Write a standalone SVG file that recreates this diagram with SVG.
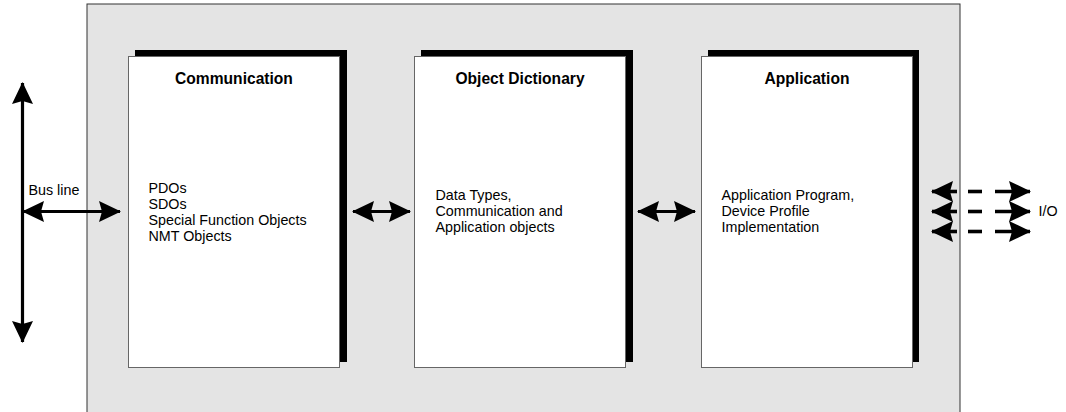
<svg xmlns="http://www.w3.org/2000/svg" width="1066" height="412" viewBox="0 0 1066 412">
  <defs>
    <style>
      .title { font-family: "Liberation Sans", Arial, sans-serif; font-weight: bold; font-size: 15.6px; fill: #000; text-anchor: middle; }
      .body { font-family: "Liberation Sans", Arial, sans-serif; font-size: 14.3px; fill: #000; }
      .shadow { fill: #000; }
      .page { fill: #fff; stroke: #666; stroke-width: 1; }
      .conn { stroke: #000; stroke-width: 3.2; fill: none; }
      .dash { stroke: #000; stroke-width: 3.6; fill: none; }
    </style>
    <marker id="head" viewBox="0 0 22 21" refX="21" refY="10.5" markerWidth="22" markerHeight="21" markerUnits="userSpaceOnUse" orient="auto-start-reverse" overflow="visible">
      <path d="M0,0 L22,10.5 L0,21 L3,10.5 Z" fill="#000"/>
    </marker>
  </defs>

  <rect id="background" x="87" y="4" width="873" height="420" fill="#e4e4e4" stroke="#333" stroke-width="1"/>

  <g id="communication">
    <rect class="shadow" x="135" y="50" width="212" height="312"/>
    <rect class="page" x="128.5" y="56.5" width="211" height="311"/>
    <text class="title" x="234" y="84">Communication</text>
    <text class="body" x="148.5" y="192.5">PDOs</text>
    <text class="body" x="148.5" y="208.5">SDOs</text>
    <text class="body" x="148.5" y="224.5">Special Function Objects</text>
    <text class="body" x="148.5" y="240.5">NMT Objects</text>
  </g>

  <g id="object-dictionary">
    <rect class="shadow" x="421" y="50" width="212" height="312"/>
    <rect class="page" x="414.5" y="56.5" width="211" height="311"/>
    <text class="title" x="520" y="84">Object Dictionary</text>
    <text class="body" x="435.5" y="199.5">Data Types,</text>
    <text class="body" x="435.5" y="215.5">Communication and</text>
    <text class="body" x="435.5" y="231.5">Application objects</text>
  </g>

  <g id="application">
    <rect class="shadow" x="708" y="50" width="211" height="312"/>
    <rect class="page" x="701.5" y="56.5" width="211" height="311"/>
    <text class="title" x="807" y="84">Application</text>
    <text class="body" x="721.5" y="199.5">Application Program,</text>
    <text class="body" x="721.5" y="215.5">Device Profile</text>
    <text class="body" x="721.5" y="231.5">Implementation</text>
  </g>

  <g id="bus-label">
    <text class="body" x="28.5" y="194.5">Bus line</text>
  </g>
  <g id="io-label">
    <text class="body" x="1038.5" y="215.5">I/O</text>
  </g>

  <g id="connectors">
    <line class="conn" x1="22.5" y1="83" x2="22.5" y2="342" marker-start="url(#head)" marker-end="url(#head)"/>
    <line class="conn" x1="23" y1="211.5" x2="120" y2="211.5" marker-start="url(#head)" marker-end="url(#head)"/>
    <line class="conn" x1="353" y1="211.5" x2="410" y2="211.5" marker-start="url(#head)" marker-end="url(#head)"/>
    <line class="conn" x1="638" y1="211.5" x2="695" y2="211.5" marker-start="url(#head)" marker-end="url(#head)"/>

    <line class="dash" x1="932" y1="191.5" x2="957" y2="191.5" marker-start="url(#head)"/>
    <line class="dash" x1="968" y1="191.5" x2="982" y2="191.5"/>
    <line class="dash" x1="995" y1="191.5" x2="1030" y2="191.5" marker-end="url(#head)"/>

    <line class="dash" x1="932" y1="211.5" x2="957" y2="211.5" marker-start="url(#head)"/>
    <line class="dash" x1="968" y1="211.5" x2="982" y2="211.5"/>
    <line class="dash" x1="995" y1="211.5" x2="1030" y2="211.5" marker-end="url(#head)"/>

    <line class="dash" x1="932" y1="231.5" x2="957" y2="231.5" marker-start="url(#head)"/>
    <line class="dash" x1="968" y1="231.5" x2="982" y2="231.5"/>
    <line class="dash" x1="995" y1="231.5" x2="1030" y2="231.5" marker-end="url(#head)"/>
  </g>
</svg>
